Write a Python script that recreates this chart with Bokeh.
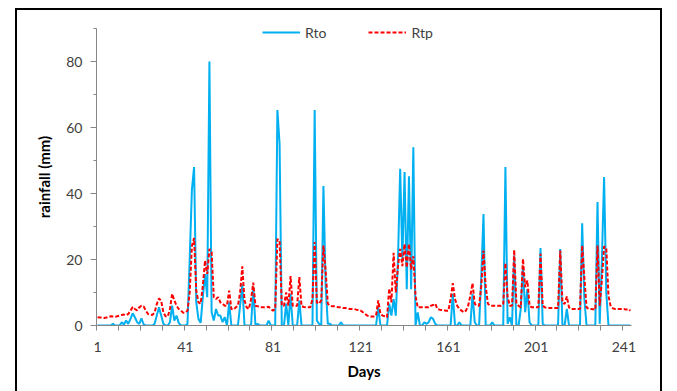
from bokeh.plotting import figure
from bokeh.models import Range1d, FixedTicker, Legend, LegendItem
from bokeh.embed import file_html
from bokeh.resources import INLINE

days = list(range(1, 245))

rto = [0,0,0,0,0,0,0,0.5,0,0,
       0,1,0.3,1.5,0.5,2,3.7,2.5,1,0.5,
       2.2,0.3,0,0,0,0,0.5,3,5.5,3,
       0.5,0,0,1,6,1.5,3,0.8,0,0,
       0,0.5,20,41,48,7,2,0.8,8.6,15.6,
       8.6,80,4,1.5,5,3,3,1,2.5,0,
       7,0,0,0,0,6,12.5,0,0,0,
       0,11.6,0,0.5,0,0,0,0,1.5,0,
       0,0,65.3,55,0,0,6.6,0,9.6,0,
       0,0,7.6,0,0,0,0,0,0,65.3,
       1.5,0.5,0,42.3,12,0.5,0.5,0,0,0,
       0,1,0,0,0,0,0,0,0,0,
       0,0,0,0,0,0,0,0,5.5,0,
       0,0,0,6.6,3,8,3,20,47.5,20,
       46.5,11,45.2,11,54,0,4,0,0,1,
       0.5,1,2.5,2,0.5,0,0,0,0,0,
       0,0,9.6,0,0,1,0,0,0,0,
       0,9.6,1,0,0,15,33.8,0,0,0,
       1,0,0,0,0,0,48,0.5,2.5,0,
       21.2,0,0,5,18,4,11,1,0,0,
       0,0,23.5,0.5,0,0,0,0,0,0,
       0,23.2,0,0,5,0,0,0,0,0,
       0,31,8,0,0,0,0,0,37.4,0.5,
       20,45,10,0,0,0,0,0,0,0,
       0,0,0,0]

rtp = [2.5,2.4,2.4,2.3,2.4,2.6,2.8,2.7,2.6,2.8,
       3,3.2,3.3,3.1,3.5,4.5,5.6,5,4.6,5.5,
       6,5.8,4.5,3.5,3.3,3.2,4,6.5,8.2,7.5,
       4,2.8,2.7,5,9.6,7.6,6,5,4.5,3.9,
       3.9,4.5,10,24,26.5,10.6,7,6.6,12,19.7,
       15.6,23.2,22.2,8.6,8,8.6,7,6.6,6,6,
       10.6,5,4.8,5.5,6,10,17.9,7.6,5.5,5,
       8,13,6,5.8,5.7,5.5,5.5,5.5,5.7,5,
       4.5,5,26.2,25.8,6,6,10,6,15,6,
       5.9,6,14.7,5.9,5.6,5.5,5.5,5.5,8,25.3,
       7,6.6,7.6,24.2,16.6,6.6,6,5.8,5.8,5.6,
       5.5,5.5,5.3,5.3,5.2,5,5,5,4.8,4.7,
       4.5,4,3.5,3,2.8,2.7,2.7,3,7.6,3.5,
       3,2.8,2.5,11.2,7,22,10,18,23.2,18,
       24.7,17.6,24.7,17,21,9,5.5,5.5,5.5,5.5,
       5.5,5.5,6,6.2,6.6,5,4.8,4.7,4.6,4.5,
       4.5,8,12.8,8,6,5,4.5,4,4.5,6,
       9,12.8,6.6,6,6,12,22.7,12,6.6,6,
       6,6,6,6,6,6.6,18.9,8.6,6,6,
       22.9,6.6,6,5.5,20.2,11.6,13.6,6,5.5,5.5,
       5.5,5.5,21.7,6,5.5,5.3,5.3,5.3,5.3,5.3,
       5.3,22.7,7,6.5,8.8,5.5,5,5,5,5,
       5,24.2,14.6,5.5,5,5,4.9,4.8,24.2,6,
       14,24,23.5,9,5.8,5.2,5,5,5,5,
       5,4.8,5,4.5]

x_labels = [1, 41, 81, 121, 161, 201, 241]
y_ticks = [0, 20, 40, 60, 80]

FONT = "Lato"
GRAY = "#868686"
TXT = "#404040"

p = figure(width=647, height=383, output_backend="svg", toolbar_location=None,
           x_range=Range1d(0.5, 244.5), y_range=Range1d(0, 90),
           min_border_left=79, min_border_right=33, min_border_top=18, min_border_bottom=68)
p.margin = (8, 0, 0, 15)
p.styles = {"border-left": "2px solid black", "border-top": "2px solid black",
            "border-right": "2px solid black"}
p.outline_line_color = None
p.grid.visible = False
p.background_fill_color = "white"
p.border_fill_color = "white"

r1 = p.line(days, rto, line_color="#00B0F0", line_width=2)
r2 = p.line(days, rtp, line_color="#FF0000", line_width=2, line_dash="4 2")

xa = p.xaxis[0]
xa.ticker = FixedTicker(ticks=x_labels, minor_ticks=[0.5 + 10 * k for k in range(25)])
xa.major_tick_out = 0
xa.major_tick_in = 0
xa.minor_tick_out = 5
xa.minor_tick_in = 0
xa.axis_line_color = GRAY
xa.minor_tick_line_color = GRAY
xa.major_label_standoff = 11
xa.major_label_text_font = FONT
xa.major_label_text_font_size = "14px"
xa.major_label_text_color = TXT
xa.axis_label = "Days"
xa.axis_label_text_font = FONT
xa.axis_label_text_font_style = "bold"
xa.axis_label_text_font_size = "15px"
xa.axis_label_text_color = "black"
xa.axis_label_standoff = 7

ya = p.yaxis[0]
ya.ticker = FixedTicker(ticks=y_ticks, minor_ticks=[10, 30, 50, 70, 90])
ya.major_tick_out = 6
ya.major_tick_in = 0
ya.minor_tick_out = 3
ya.minor_tick_in = 0
ya.axis_line_color = GRAY
ya.major_tick_line_color = GRAY
ya.minor_tick_line_color = GRAY
ya.major_label_standoff = 8
ya.major_label_text_font = FONT
ya.major_label_text_font_size = "14px"
ya.major_label_text_color = TXT
ya.axis_label = "rainfall (mm)"
ya.axis_label_text_font = FONT
ya.axis_label_text_font_style = "bold"
ya.axis_label_text_font_size = "15px"
ya.axis_label_text_color = "black"
ya.axis_label_standoff = 10

legend = Legend(items=[LegendItem(label="Rto", renderers=[r1]),
                       LegendItem(label="Rtp", renderers=[r2])],
                orientation="horizontal", location=(166, 283),
                border_line_color=None, background_fill_alpha=0,
                padding=0, margin=0, spacing=42, glyph_width=38, glyph_height=20,
                label_standoff=5, label_height=20,
                label_text_font=FONT, label_text_font_size="14px", label_text_color=TXT)
p.add_layout(legend, "center")

open("out.html", "w").write(file_html(p, INLINE))
